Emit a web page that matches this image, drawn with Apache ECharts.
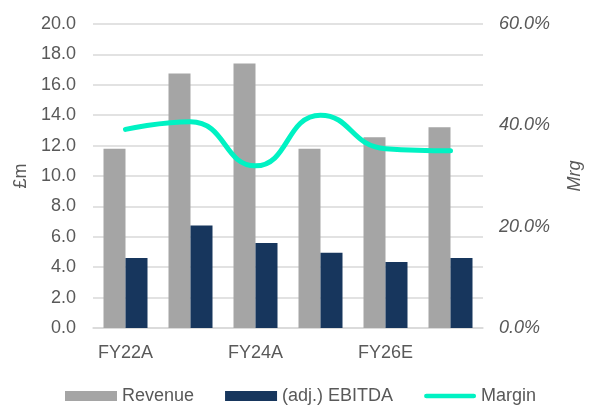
<!DOCTYPE html>
<html>
<head>
<meta charset="utf-8">
<script src="https://cdn.jsdelivr.net/npm/echarts@6/dist/echarts.min.js"></script>
<style>
  html, body { margin: 0; padding: 0; background: #fff; }
  #chart { width: 592px; height: 407px; }
</style>
</head>
<body>
<div id="chart"></div>
<script>
// data
const years = ['FY22A', 'FY23A', 'FY24A', 'FY25A', 'FY26E', 'FY27E'];
const revenue = [11.8, 16.75, 17.4, 11.8, 12.55, 13.2];
const ebitda = [4.6, 6.75, 5.6, 4.95, 4.35, 4.6];
const margin = [39.2, 40.7, 32.0, 42.0, 35.4, 35.0]; // %

const font = 'Liberation Sans, Arial, sans-serif';
const grey = '#595959';

let chart = echarts.init(document.getElementById('chart'), null, { renderer: 'canvas' });

let option = {
  animation: false,
  textStyle: { fontFamily: font },
  grid: { left: 93, right: 103, top: 24, bottom: 79, containLabel: false },
  legend: {
    left: 65,
    top: 387,
    padding: 0,
    itemWidth: 52,
    itemHeight: 10,
    itemGap: 31,
    textStyle: { fontSize: 18, color: grey, fontFamily: font },
    data: [
      { name: 'Revenue', icon: 'rect' },
      { name: '(adj.) EBITDA', icon: 'rect' },
      // thin rounded stroke; the extra moves pad the box so it stays thin
      { name: 'Margin', icon: 'path://M0,0 M2.5,2.5 L52.5,2.5 A2.5,2.5 0 0 1 52.5,7.5 L2.5,7.5 A2.5,2.5 0 0 1 2.5,2.5 Z M55,10' }
    ]
  },
  xAxis: {
    type: 'category',
    data: years,
    axisTick: { show: false },
    axisLine: { lineStyle: { color: '#D9D9D9', width: 1.5 } },
    axisLabel: { interval: 1, color: grey, fontSize: 18, margin: 16 }
  },
  yAxis: [
    {
      type: 'value',
      min: 0, max: 20, interval: 2,
      name: '£m',
      nameLocation: 'middle',
      nameGap: 59,
      nameRotate: 90,
      nameTextStyle: { color: grey, fontSize: 18 },
      axisLabel: { color: grey, fontSize: 18, margin: 17, formatter: v => v.toFixed(1) },
      splitLine: { lineStyle: { color: '#D9D9D9', width: 1.5 } },
      axisLine: { show: false },
      axisTick: { show: false }
    },
    {
      type: 'value',
      min: 0, max: 60, interval: 20,
      name: 'Mrg',
      nameLocation: 'middle',
      nameGap: 83,
      nameRotate: 90,
      nameTextStyle: { color: grey, fontSize: 18, fontStyle: 'italic' },
      axisLabel: { color: grey, fontSize: 18, fontStyle: 'italic', margin: 16, formatter: v => v.toFixed(1) + '%' },
      splitLine: { show: false },
      axisLine: { show: false },
      axisTick: { show: false }
    }
  ],
  series: [
    {
      name: 'Revenue',
      type: 'bar',
      data: revenue,
      barWidth: 22,
      barGap: '0%',
      itemStyle: { color: '#A5A5A5' }
    },
    {
      name: '(adj.) EBITDA',
      type: 'bar',
      data: ebitda,
      barWidth: 22,
      itemStyle: { color: '#17365D' }
    },
    {
      name: 'Margin',
      type: 'line',
      yAxisIndex: 1,
      data: margin,
      smooth: 0.5,
      symbol: 'none',
      lineStyle: { color: '#00F2C3', width: 5, cap: 'round' },
      itemStyle: { color: '#00F2C3' }
    }
  ]
};

chart.setOption(option);
</script>
</body>
</html>
